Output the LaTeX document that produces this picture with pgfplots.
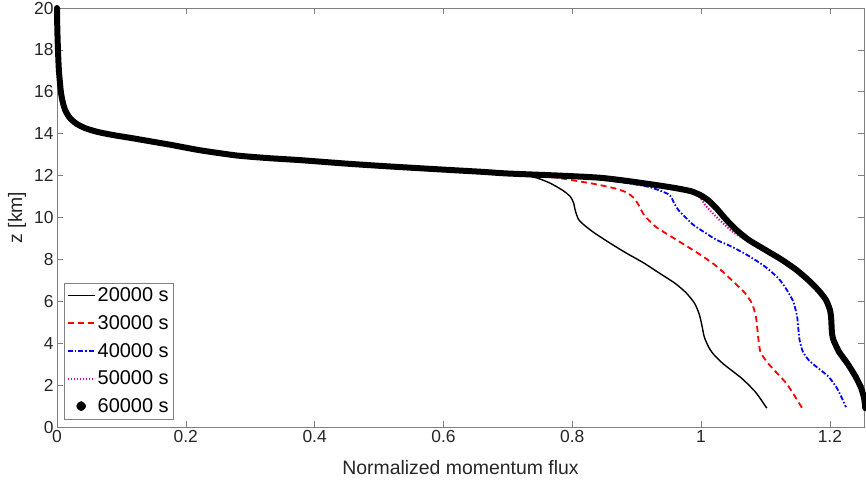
\documentclass[border=0pt]{standalone}
\usepackage{pgfplots}
\pgfplotsset{compat=1.18}
\usepackage{fontspec}
\setmainfont{Liberation Sans}
\definecolor{axgray}{gray}{0.5}
\definecolor{txtgray}{gray}{0.15}
\pgfplotsset{mylegend/.style={legend image code/.code={\draw[##1] (0bp,0bp) -- (27bp,0bp);}}}
\begin{document}
\begin{tikzpicture}
\begin{axis}[
  at={(0,0)}, anchor=south west,
  scale only axis, width=807bp, height=419bp,
  xmin=0, xmax=1.253, ymin=0, ymax=20,
  xtick={0,0.2,0.4,0.6,0.8,1,1.2},
  ytick={0,2,4,6,8,10,12,14,16,18,20},
  tick align=inside, xtick pos=both, ytick pos=both,
  xticklabel pos=left, yticklabel pos=left,
  major tick length=6bp,
  axis line style={axgray, line width=0.6bp},
  every tick/.style={axgray, line width=0.6bp},
  tick label style={font=\fontsize{17.5}{20}\selectfont, text=txtgray},
  /pgf/number format/assume math mode=true,
  xlabel={Normalized momentum flux},
  ylabel={z [km]},
  label style={font=\fontsize{19.5}{22}\selectfont, text=txtgray},
  xlabel style={at={(axis description cs:0.5,0)}, anchor=center, yshift=-41bp},
  ylabel style={at={(axis description cs:0,0.5)}, anchor=center, yshift=40bp},
  clip=false,
  legend cell align=left,
  legend style={at={(axis description cs:0,0)}, anchor=south west, xshift=6.5bp, yshift=8bp,
    draw=axgray, font=\fontsize{20}{22}\selectfont, text=black,
    inner xsep=3bp, inner ysep=3bp, row sep=8.2bp},
]
\addplot[black, line width=1.4bp, smooth, tension=0.4, mylegend] coordinates {
(0,20) (0.0005,19) (0.0015,18) (0.003,17) (0.006,16.0) (0.009,15.5) (0.013,15.1) (0.02,14.75) (0.03,14.48) (0.045,14.25) (0.065,14.07) (0.09,13.92) (0.118,13.78) (0.15,13.61) (0.18,13.45) (0.222,13.21) (0.279,12.96) (0.33,12.83) (0.377,12.74) (0.45,12.57) (0.52,12.43) (0.609,12.27) (0.66,12.18)
(0.7,12.08) (0.74,11.93) (0.765,11.65) (0.785,11.3) (0.797,11.0) (0.802,10.7) (0.805,10.3) (0.81,9.9) (0.82,9.6) (0.835,9.25) (0.86,8.75) (0.884,8.3) (0.91,7.85) (0.935,7.35) (0.96,6.85) (0.977,6.4) (0.99,5.9) (0.997,5.4) (1.001,4.9) (1.005,4.3) (1.012,3.8) (1.02,3.45) (1.035,3.0) (1.064,2.3) (1.085,1.65) (1.102,0.9)
};
\addlegendentry{20000 s}
\addplot[red, line width=1.8bp, dash pattern=on 6bp off 4bp, smooth, tension=0.4, mylegend] coordinates {
(0,20) (0.0005,19) (0.0015,18) (0.003,17) (0.006,16.0) (0.009,15.5) (0.013,15.1) (0.02,14.75) (0.03,14.48) (0.045,14.25) (0.065,14.07) (0.09,13.92) (0.118,13.78) (0.15,13.61) (0.18,13.45) (0.222,13.21) (0.279,12.96) (0.33,12.83) (0.377,12.74) (0.45,12.57) (0.52,12.43) (0.609,12.27) (0.66,12.18)
(0.7,12.1) (0.75,12.0) (0.78,11.88) (0.831,11.62) (0.865,11.4) (0.884,11.2) (0.895,10.95) (0.903,10.6) (0.912,10.1) (0.93,9.55) (0.961,8.95) (1.0,8.2) (1.025,7.65) (1.048,7.0) (1.068,6.4) (1.079,5.9) (1.085,5.3) (1.087,4.8) (1.089,4.2) (1.092,3.6) (1.1,3.2) (1.108,2.9) (1.132,2.1) (1.145,1.5) (1.157,0.9)
};
\addlegendentry{30000 s}
\addplot[blue, line width=1.8bp, dash pattern=on 5bp off 2bp on 1.5bp off 2bp, smooth, tension=0.4, mylegend] coordinates {
(0,20) (0.0005,19) (0.0015,18) (0.003,17) (0.006,16.0) (0.009,15.5) (0.013,15.1) (0.02,14.75) (0.03,14.48) (0.045,14.25) (0.065,14.07) (0.09,13.92) (0.118,13.78) (0.15,13.61) (0.18,13.45) (0.222,13.21) (0.279,12.96) (0.33,12.83) (0.377,12.74) (0.45,12.57) (0.52,12.43) (0.609,12.27) (0.66,12.18)
(0.7,12.12) (0.78,12.0) (0.842,11.82) (0.884,11.65) (0.92,11.45) (0.95,11.1) (0.958,10.7) (0.965,10.35) (0.986,9.7) (1.0,9.4) (1.023,8.95) (1.048,8.6) (1.075,8.15) (1.1,7.64) (1.12,7.1) (1.132,6.6) (1.143,6.0) (1.149,5.3) (1.151,4.7) (1.153,4.15) (1.158,3.6) (1.167,3.2) (1.18,2.85) (1.198,2.4) (1.212,1.8) (1.225,0.95)
};
\addlegendentry{40000 s}
\addplot[magenta, line width=2bp, dash pattern=on 1.3bp off 1.7bp, smooth, tension=0.4, mylegend] coordinates {
(0,20) (0.0005,19) (0.0015,18) (0.003,17) (0.006,16.0) (0.009,15.5) (0.013,15.1) (0.02,14.75) (0.03,14.48) (0.045,14.25) (0.065,14.07) (0.09,13.92) (0.118,13.78) (0.15,13.61) (0.18,13.45) (0.222,13.21) (0.279,12.96) (0.33,12.83) (0.377,12.74) (0.45,12.57) (0.52,12.43) (0.609,12.27) (0.66,12.18)
(0.7,12.1) (0.78,12.0) (0.842,11.88) (0.884,11.73) (0.93,11.52) (0.961,11.35) (0.985,11.18) (0.997,11.0) (1.009,10.5) (1.028,9.9) (1.05,9.3) (1.074,8.85) (1.1,8.42) (1.126,7.97) (1.148,7.5) (1.167,7.0) (1.183,6.5) (1.194,6.06) (1.2,5.6) (1.202,5.2) (1.203,4.6) (1.205,4.2) (1.214,3.6) (1.228,3.0) (1.24,2.4) (1.248,1.9) (1.253,1.4) (1.255,0.9)
};
\addlegendentry{50000 s}
\addplot[black, line width=6bp, line cap=round, line join=round, smooth, tension=0.4,
  legend image code/.code={\fill[black] (13.5bp,0bp) circle (1.9bp);}] coordinates {
(0,20) (0.0005,19) (0.0015,18) (0.003,17) (0.006,16.0) (0.009,15.5) (0.013,15.1) (0.02,14.75) (0.03,14.48) (0.045,14.25) (0.065,14.07) (0.09,13.92) (0.118,13.78) (0.15,13.61) (0.18,13.45) (0.222,13.21) (0.279,12.96) (0.33,12.83) (0.377,12.74) (0.45,12.57) (0.52,12.43) (0.609,12.27) (0.66,12.18)
(0.7,12.1) (0.78,12.0) (0.842,11.9) (0.884,11.75) (0.93,11.55) (0.961,11.4) (0.985,11.25) (1.0,11.05) (1.012,10.8) (1.025,10.4) (1.039,9.9) (1.055,9.4) (1.074,8.93) (1.1,8.45) (1.126,7.97) (1.148,7.5) (1.167,7.0) (1.183,6.5) (1.194,6.06) (1.2,5.6) (1.202,5.2) (1.203,4.6) (1.205,4.2) (1.214,3.6) (1.228,3.0) (1.24,2.4) (1.248,1.9) (1.253,1.4) (1.255,0.9)
};
\addlegendentry{60000 s}
\end{axis}
\pgfresetboundingbox
\useasboundingbox (-57bp,-57bp) rectangle (809bp,427bp);
\end{tikzpicture}
\end{document}
